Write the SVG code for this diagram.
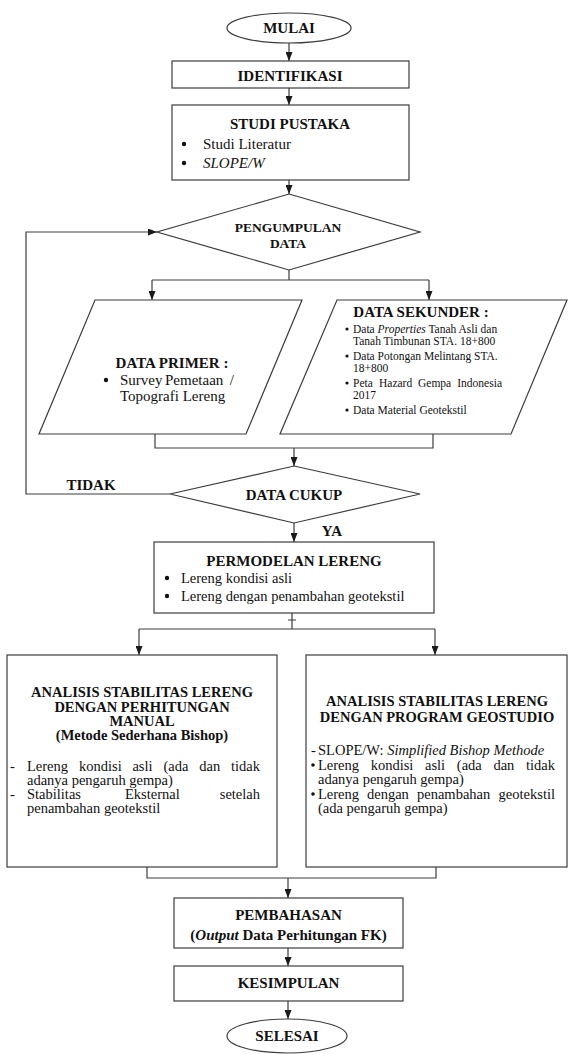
<svg xmlns="http://www.w3.org/2000/svg" width="568" height="1054" viewBox="0 0 568 1054">
<defs>
<marker id="ah" viewBox="0 0 10 10" refX="10" refY="5" markerWidth="9" markerHeight="7" orient="auto" markerUnits="userSpaceOnUse" preserveAspectRatio="none"><path d="M0,0 L10,5 L0,10 z" fill="#1a1a1a"/></marker>
<style>
.s{fill:#fff;stroke:#3c3c3c;stroke-width:1.2}
.c{fill:none;stroke:#3c3c3c;stroke-width:1.2}
.a{marker-end:url(#ah)}
.d{fill:#111;stroke:none}
text{font-family:"Liberation Serif","Times New Roman",serif;fill:#111}
.t{font-size:15px;font-weight:bold;text-anchor:middle}
.n{font-size:14.5px}
.m{font-size:11.5px}
.i{font-style:italic}
.e{text-anchor:end}
</style>
</defs>
<rect width="568" height="1054" fill="#fff"/>
<g id="connectors" class="c">
<path class="a" d="M289,43 V61"/>
<path class="a" d="M289,88 V105"/>
<path class="a" d="M289,180 V194"/>
<path d="M289,270 V280 M152,280 H429"/>
<path class="a" d="M152,280 V300"/>
<path class="a" d="M429,280 V300"/>
<path class="a" d="M170,494 H26 V232 H157"/>
<path d="M155,434 V448 H433 V434"/>
<path class="a" d="M294,448 V466"/>
<path class="a" d="M294,523 V542"/>
<path d="M292,613 V629 M288,620 H296 M139,629 H435"/>
<path class="a" d="M139,629 V655"/>
<path class="a" d="M435,629 V655"/>
<path d="M147,867 V878 H436 V867"/>
<path class="a" d="M288,878 V898"/>
<path class="a" d="M288,948 V966"/>
<path class="a" d="M288,1001 V1019"/>
</g>
<g id="mulai">
<ellipse class="s" cx="289" cy="28" rx="62" ry="15"/>
<text class="t" x="289" y="33">MULAI</text>
</g>
<g id="identifikasi">
<rect class="s" x="172" y="61" width="237" height="27"/>
<text class="t" x="290" y="81">IDENTIFIKASI</text>
</g>
<g id="studi-pustaka">
<rect class="s" x="172" y="105" width="237" height="75"/>
<text class="t" x="290" y="129">STUDI PUSTAKA</text>
<circle class="d" cx="184" cy="144" r="2.2"/>
<text class="n" x="203" y="149" style="font-size:15px">Studi Literatur</text>
<circle class="d" cx="184" cy="163" r="2.2"/>
<text class="n i" x="203" y="168" style="font-size:15px">SLOPE/W</text>
</g>
<g id="pengumpulan-data">
<polygon class="s" points="289,194 420,232 289,270 157,232"/>
<text class="t" x="288" y="232" style="font-size:13.5px">PENGUMPULAN</text>
<text class="t" x="288" y="248" style="font-size:13.5px">DATA</text>
</g>
<g id="data-primer">
<polygon class="s" points="95,300 302,300 246,434 39,434"/>
<text class="t" x="172" y="368">DATA PRIMER :</text>
<circle class="d" cx="106" cy="380" r="2.2"/>
<text class="n" x="120" y="385" style="font-size:15px">Survey</text>
<text class="n" x="165" y="385" style="font-size:15px">Pemetaan</text>
<text class="n e" x="234" y="385" style="font-size:15px">/</text>
<text class="n" x="120" y="401" style="font-size:15px">Topografi Lereng</text>
</g>
<g id="data-sekunder">
<polygon class="s" points="337,300 567,300 511,434 280,434"/>
<text class="t" x="421" y="317">DATA SEKUNDER :</text>
<circle class="d" cx="347" cy="329" r="1.6"/>
<text class="m" x="353" y="333">Data <tspan class="i">Properties</tspan> Tanah Asli dan</text>
<text class="m" x="353" y="345">Tanah Timbunan STA. 18+800</text>
<circle class="d" cx="347" cy="356" r="1.6"/>
<text class="m" x="353" y="360">Data Potongan Melintang STA.</text>
<text class="m" x="353" y="372">18+800</text>
<circle class="d" cx="347" cy="383" r="1.6"/>
<text class="m" x="353" y="387">Peta</text>
<text class="m" x="379" y="387">Hazard</text>
<text class="m" x="418" y="387">Gempa</text>
<text class="m e" x="502" y="387">Indonesia</text>
<text class="m" x="353" y="399">2017</text>
<circle class="d" cx="347" cy="410" r="1.6"/>
<text class="m" x="353" y="414">Data Material Geotekstil</text>
</g>
<g id="data-cukup">
<polygon class="s" points="294,466 420,494 294,523 170,494"/>
<text class="t" x="294" y="500">DATA CUKUP</text>
</g>
<g id="labels">
<text class="t" x="91" y="490">TIDAK</text>
<text class="t" x="332" y="536">YA</text>
</g>
<g id="permodelan-lereng">
<rect class="s" x="154" y="542" width="280" height="71"/>
<text class="t" x="294" y="566">PERMODELAN LERENG</text>
<circle class="d" cx="167" cy="578" r="2.2"/>
<text class="n" x="181" y="583">Lereng kondisi asli</text>
<circle class="d" cx="167" cy="596" r="2.2"/>
<text class="n" x="181" y="601">Lereng dengan penambahan geotekstil</text>
</g>
<g id="analisis-manual">
<rect class="s" x="7" y="655" width="270" height="212"/>
<text class="t" x="142" y="697" style="font-size:14.5px">ANALISIS STABILITAS LERENG</text>
<text class="t" x="142" y="712" style="font-size:14.5px">DENGAN PERHITUNGAN</text>
<text class="t" x="142" y="726" style="font-size:14.5px">MANUAL</text>
<text class="t" x="142" y="740" style="font-size:14.5px">(Metode Sederhana Bishop)</text>
<text class="n" x="10" y="771">-</text>
<text class="n" x="27" y="771">Lereng</text>
<text class="n" x="79" y="771">kondisi</text>
<text class="n" x="132.4" y="771">asli</text>
<text class="n" x="163.4" y="771">(ada</text>
<text class="n" x="199.3" y="771">dan</text>
<text class="n e" x="260" y="771">tidak</text>
<text class="n" x="27" y="785">adanya pengaruh gempa)</text>
<text class="n" x="10" y="799">-</text>
<text class="n" x="27" y="799">Stabilitas</text>
<text class="n" x="125" y="799">Eksternal</text>
<text class="n e" x="260" y="799">setelah</text>
<text class="n" x="27" y="813">penambahan geotekstil</text>
</g>
<g id="analisis-geostudio">
<rect class="s" x="306" y="655" width="261" height="212"/>
<text class="t" x="437" y="706" style="font-size:14.5px">ANALISIS STABILITAS LERENG</text>
<text class="t" x="437" y="722" style="font-size:14.5px">DENGAN PROGRAM GEOSTUDIO</text>
<text class="n" x="311" y="755">-</text>
<text class="n" x="318" y="755">SLOPE/W: <tspan class="i">Simplified Bishop Methode</tspan></text>
<circle class="d" cx="313" cy="765" r="1.8"/>
<text class="n" x="318" y="770">Lereng</text>
<text class="n" x="370.7" y="770">kondisi</text>
<text class="n" x="425" y="770">asli</text>
<text class="n" x="456.8" y="770">(ada</text>
<text class="n" x="493.4" y="770">dan</text>
<text class="n e" x="555" y="770">tidak</text>
<text class="n" x="318" y="784">adanya pengaruh gempa)</text>
<circle class="d" cx="313" cy="794" r="1.8"/>
<text class="n" x="318" y="799">Lereng</text>
<text class="n" x="367" y="799">dengan</text>
<text class="n" x="417" y="799">penambahan</text>
<text class="n e" x="555" y="799">geotekstil</text>
<text class="n" x="318" y="813">(ada pengaruh gempa)</text>
</g>
<g id="pembahasan">
<rect class="s" x="174" y="898" width="229" height="50"/>
<text class="t" x="288.5" y="920">PEMBAHASAN</text>
<text class="t" x="288.5" y="940">(<tspan class="i">Output</tspan> Data Perhitungan FK)</text>
</g>
<g id="kesimpulan">
<rect class="s" x="174" y="966" width="229" height="35"/>
<text class="t" x="288.5" y="988">KESIMPULAN</text>
</g>
<g id="selesai">
<ellipse class="s" cx="287" cy="1036" rx="60" ry="17"/>
<text class="t" x="287" y="1041">SELESAI</text>
</g>
</svg>
